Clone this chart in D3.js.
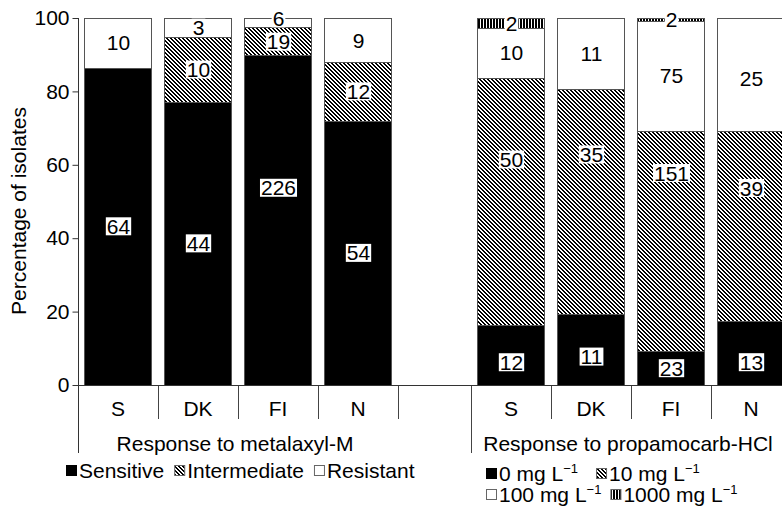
<!DOCTYPE html>
<html>
<head>
<meta charset="utf-8">
<script src="https://cdn.jsdelivr.net/npm/d3@7"></script>
<style>
  html, body { margin: 0; padding: 0; background: #fff; overflow: hidden; }
  svg { display: block; font-family: "Liberation Sans", Arial, Helvetica, sans-serif; }
</style>
</head>
<body>
<svg id="chart" width="782" height="508"></svg>
<script>
// Isolate counts per country and response class
const countries = ["S", "DK", "FI", "N"];
const isolatesTested = [74, 57, 251, 75];

const metalaxylClasses = ["Sensitive", "Intermediate", "Resistant"];
const metSensitive    = [64, 44, 226, 54];
const metIntermediate = [0, 10, 19, 12];
const metResistant    = [10, 3, 6, 9];

const propamocarbDoses = ["0", "10", "100", "1000"];
const prop0    = [12, 11, 23, 13];
const prop10   = [50, 35, 151, 39];
const prop100  = [10, 11, 75, 25];
const prop1000 = [2, 0, 2, 0];

const yTicks = [0, 20, 40, 60, 80, 100];
const yTitle = "Percentage of isolates";
const groupTitles = ["Response to metalaxyl-M", "Response to propamocarb-HCl"];

// ---------------------------------------------------------------------------
const svg = d3.select("#chart");
const FONT = 21;
const plotTop = 18, plotBottom = 385, catLineEnd = 419, groupLineEnd = 453;

const defs = svg.append("defs");
// downward diagonal hatch, built from whole pixels so the stripes stay crisp
const hatch = defs.append("pattern").attr("id", "hatch")
  .attr("patternUnits", "userSpaceOnUse").attr("width", 4).attr("height", 4);
hatch.append("rect").attr("width", 4).attr("height", 4).attr("fill", "#fff");
d3.range(4).forEach(i => {
  hatch.append("rect").attr("x", i).attr("y", i).attr("width", 1).attr("height", 1)
    .attr("fill", "#000").attr("shape-rendering", "crispEdges");
  hatch.append("rect").attr("x", (i + 1) % 4).attr("y", i).attr("width", 1).attr("height", 1)
    .attr("fill", "#000").attr("shape-rendering", "crispEdges");
});
// vertical stripes
const vert = defs.append("pattern").attr("id", "vert")
  .attr("patternUnits", "userSpaceOnUse").attr("width", 3).attr("height", 3);
vert.append("rect").attr("width", 3).attr("height", 3).attr("fill", "#fff");
vert.append("rect").attr("x", 1).attr("width", 2).attr("height", 3).attr("fill", "#000")
  .attr("shape-rendering", "crispEdges");

const fills = ["#000", "url(#hatch)", "#fff", "url(#vert)"];

const y = d3.scaleLinear().domain([0, 100]).range([plotBottom, plotTop]).clamp(true);

const groups = [
  {
    id: "met", title: groupTitles[0], range: [78, 398],
    keys: metalaxylClasses, series: [metSensitive, metIntermediate, metResistant]
  },
  {
    id: "prop", title: groupTitles[1], range: [471, 791],
    keys: propamocarbDoses, series: [prop0, prop10, prop100, prop1000]
  }
];

// small vertical shifts (px) for labels that sit away from the segment middle
const labelNudge = {
  "met|FI|0": -32, "met|FI|2": -4, "met|FI|1": 1,
  "prop|S|0": 7, "prop|DK|0": 7, "prop|N|0": 9,
  "prop|S|1": -42, "prop|DK|1": -47, "prop|FI|1": -68, "prop|N|1": -38,
  "prop|N|2": 4
};

const barsLayer = svg.append("g");
const labelLayer = svg.append("g");
const axisLayer = svg.append("g");

groups.forEach(g => {
  const x = d3.scaleBand().domain(countries).range(g.range)
    .paddingInner(0.16).paddingOuter(0.08);

  const rows = countries.map((c, i) => {
    const r = { country: c, total: isolatesTested[i] };
    g.keys.forEach((k, j) => r[k] = g.series[j][i]);
    return r;
  });
  const stacked = d3.stack().keys(g.keys)(rows);

  stacked.forEach((layer, j) => {
    const pct = d => [d[0] / d.data.total * 100, d[1] / d.data.total * 100];
    const shown = layer.filter(d => d.data[layer.key] > 0);

    barsLayer.append("g").selectAll("rect")
      .data(shown)
      .join("rect")
      .attr("x", d => Math.round(x(d.data.country)) + 0.5)
      .attr("width", Math.round(x.bandwidth()))
      .attr("y", d => Math.round(y(pct(d)[1])) + 0.5)
      .attr("height", d => Math.max(0, Math.round(y(pct(d)[0])) - Math.round(y(pct(d)[1]))))
      .attr("fill", fills[j])
      .attr("stroke", "#555")
      .attr("stroke-width", 1);

    shown.forEach(d => {
      const [a, b] = pct(d);
      const key = g.id + "|" + d.data.country + "|" + j;
      const cy = (y(a) + y(b)) / 2 + (labelNudge[key] || 0);
      const cx = x(d.data.country) + x.bandwidth() / 2 + 0.5;
      const lg = labelLayer.append("g");
      const t = lg.append("text")
        .attr("x", cx).attr("y", cy)
        .attr("dy", "0.36em")
        .attr("text-anchor", "middle")
        .attr("font-size", FONT)
        .attr("fill", "#000")
        .text(d.data[layer.key]);
      const w = t.node().getComputedTextLength();
      lg.insert("rect", "text")
        .attr("x", cx - w / 2 - 1).attr("y", cy - 9)
        .attr("width", w + 2).attr("height", 18)
        .attr("fill", "#fff");
    });
  });

  // category separators and labels
  const step = x.step();
  d3.range(1, countries.length + 1).forEach(k => {
    const xx = Math.round(g.range[0] + k * step) + 0.5;
    axisLayer.append("line")
      .attr("x1", xx).attr("x2", xx)
      .attr("y1", plotBottom).attr("y2", catLineEnd)
      .attr("stroke", "#444").attr("stroke-width", 1);
  });
  // group boundary line
  axisLayer.append("line")
    .attr("x1", g.range[0] + 0.5).attr("x2", g.range[0] + 0.5)
    .attr("y1", plotBottom).attr("y2", groupLineEnd)
    .attr("stroke", "#444").attr("stroke-width", 1);

  axisLayer.append("g").selectAll("text")
    .data(countries)
    .join("text")
    .attr("x", (c, i) => g.range[0] + (i + 0.5) * step)
    .attr("y", 408)
    .attr("dy", "0.36em")
    .attr("text-anchor", "middle")
    .attr("font-size", FONT)
    .text(c => c);

  axisLayer.append("text")
    .attr("x", (g.range[0] + g.range[1]) / 2 - 3)
    .attr("y", 443)
    .attr("dy", "0.36em")
    .attr("text-anchor", "middle")
    .attr("font-size", FONT)
    .text(g.title);
});

// baseline
axisLayer.append("line")
  .attr("x1", 78).attr("x2", 782)
  .attr("y1", plotBottom + 0.5).attr("y2", plotBottom + 0.5)
  .attr("stroke", "#333").attr("stroke-width", 1);

// y axis
const yAxis = axisLayer.append("g")
  .attr("transform", "translate(78.5,0)")
  .call(d3.axisLeft(y).tickValues(yTicks).tickSize(6).tickPadding(3));
yAxis.select(".domain").remove();
yAxis.selectAll(".tick line").attr("stroke", "#333");
yAxis.selectAll(".tick text")
  .attr("font-size", FONT)
  .attr("font-family", "Liberation Sans, Arial, sans-serif")
  .attr("fill", "#000");
axisLayer.append("line")
  .attr("x1", 78.5).attr("x2", 78.5)
  .attr("y1", plotTop).attr("y2", groupLineEnd)
  .attr("stroke", "#333").attr("stroke-width", 1);

axisLayer.append("text")
  .attr("transform", `translate(18,211) rotate(-90)`)
  .attr("text-anchor", "middle")
  .attr("dy", "0.36em")
  .attr("font-size", FONT)
  .text(yTitle);

// ---------------------------------------------------------------------------
// legends
function legendRow(x0, cy, items, gap, sw) {
  let x = x0;
  const row = svg.append("g");
  items.forEach(it => {
    row.append("rect")
      .attr("x", x + 0.5).attr("y", cy - sw / 2 + 0.5)
      .attr("width", sw).attr("height", sw)
      .attr("fill", it.fill)
      .attr("stroke", it.fill === "#000" ? "#000" : "#666")
      .attr("stroke-width", 1);
    x += sw + 3;
    const t = row.append("text")
      .attr("x", x).attr("y", cy)
      .attr("dy", "0.36em")
      .attr("font-size", FONT);
    t.append("tspan").text(it.label);
    if (it.unit) {
      t.append("tspan").text(" mg L");
      t.append("tspan").attr("font-size", 13).attr("dy", "-0.55em").text("\u22121");
    }
    x += t.node().getComputedTextLength() + gap;
  });
}

legendRow(66, 470, metalaxylClasses.map((k, j) => ({ label: k, fill: fills[j] })), 10, 10);
legendRow(486, 473, propamocarbDoses.slice(0, 2).map((k, j) => ({ label: k, unit: true, fill: fills[j] })), 18, 10);
legendRow(486, 494, propamocarbDoses.slice(2).map((k, j) => ({ label: k, unit: true, fill: fills[j + 2] })), 9, 10);
</script>
</body>
</html>
